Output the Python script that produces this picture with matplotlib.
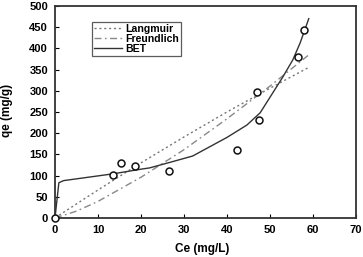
import matplotlib
matplotlib.use("Agg")
import matplotlib.pyplot as plt

# Experimental data
ce_data = [0, 13.6, 15.3, 18.5, 26.5, 42.3, 47.0, 47.4, 56.6, 58.0]
qe_data = [0, 102, 130, 123, 110, 160, 296, 232, 380, 443]

# Model curves
lang_x = [0, 10, 20, 30, 40, 50, 58.8]
lang_y = [0, 66, 130, 191, 250, 306, 354]

freu_x = [0, 5, 10, 20, 30, 40, 50, 58.8]
freu_y = [0, 16, 39, 96, 161, 234, 311, 383]

bet_x = [0, 0.9, 2, 13.5, 20, 22, 26.7, 32, 40, 44.6, 47.7, 53, 55.3, 57, 59]
bet_y = [0, 83, 88, 104, 115, 118, 131, 146, 190, 219, 248, 333, 373, 413, 470]

xticks = [0, 10, 20, 30, 40, 50, 60, 70]
yticks = [0, 50, 100, 150, 200, 250, 300, 350, 400, 450, 500]

plt.rcParams['font.family'] = ['Liberation Sans', 'DejaVu Sans']
fig = plt.figure(figsize=(3.63, 2.57), dpi=100)
ax = fig.add_axes([0.1515, 0.152, 0.8295, 0.825])

ax.plot(lang_x, lang_y, color='#777777', lw=1.0, ls=(0, (1.5, 2)), label='Langmuir')
ax.plot(freu_x, freu_y, color='#888888', lw=1.0, ls=(0, (5, 2.5, 1.2, 2.5)), label='Freundlich')
ax.plot(bet_x, bet_y, color='#333333', lw=1.0, ls='-', label='BET')
ax.plot(ce_data, qe_data, ls='none', marker='o', ms=5, fillstyle='full',
        markerfacecolor='white', markeredgecolor='#111111',
        markeredgewidth=1.1, clip_on=False, zorder=5)

ax.set_xlim(0, 70)
ax.set_ylim(0, 500)
ax.set_xticks(xticks)
ax.set_yticks(yticks)
ax.tick_params(direction='in', length=3, width=0.8, labelsize=8, pad=5)
for lab in ax.get_xticklabels() + ax.get_yticklabels():
    lab.set_fontweight('bold')
for s in ax.spines.values():
    s.set_linewidth(1.3)
    s.set_color('#333333')

ax.set_xlabel('Ce (mg/L)', fontsize=8.5, fontweight='bold')
ax.set_ylabel('qe (mg/g)', fontsize=8.5, fontweight='bold')
ax.xaxis.set_label_coords(0.488, -0.12)
ax.yaxis.set_label_coords(-0.138, 0.505)

leg = ax.legend(loc='upper left', bbox_to_anchor=(0.123, 0.925),
                prop={'weight': 'bold', 'size': 7.6}, frameon=True, fancybox=False,
                edgecolor='#333333', handlelength=2.6, handletextpad=0.3,
                labelspacing=0.0, borderpad=0.2, borderaxespad=0)
leg.get_frame().set_linewidth(0.9)

fig.savefig('out.png', dpi=100)
